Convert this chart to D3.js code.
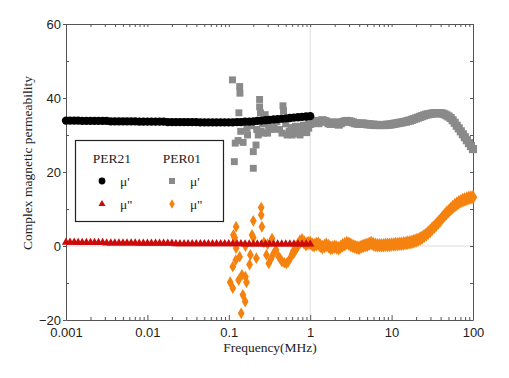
<!DOCTYPE html>
<html><head><meta charset="utf-8">
<script src="https://cdn.jsdelivr.net/npm/d3@7"></script>
<style>body{margin:0;background:#fff}svg{display:block}</style>
</head><body><div id="chart"></div>
<script>
// ---- data ----
const per21Freq = [0.001,0.00112,0.00126,0.00141,0.00158,0.00178,0.002,0.00224,0.00251,0.00282,0.00316,0.00355,0.00398,0.00447,0.00501,0.00562,0.00631,0.00708,0.00794,0.00891,
 0.01,0.0112,0.0126,0.0141,0.0158,0.0178,0.02,0.0224,0.0251,0.0282,0.0316,0.0355,0.0398,0.0447,0.0501,0.0562,0.0631,0.0708,0.0794,0.0891,
 0.1,0.112,0.126,0.141,0.158,0.178,0.2,0.224,0.251,0.282,0.316,0.355,0.398,0.447,0.501,0.562,0.631,0.708,0.794,0.891,1.0];
const per21MuReal = [33.9,33.9,33.9,33.9,33.8,33.8,33.8,33.8,33.8,33.8,33.8,33.7,33.7,33.7,33.7,33.7,33.7,33.7,33.6,33.6,
 33.6,33.6,33.6,33.6,33.6,33.5,33.5,33.5,33.5,33.5,33.5,33.5,33.5,33.4,33.4,33.4,33.4,33.4,33.4,33.4,
 33.4,33.4,33.5,33.5,33.6,33.6,33.7,33.8,33.9,34.0,34.1,34.2,34.3,34.4,34.5,34.6,34.7,34.8,34.9,35.0,35.1];
const per21MuImag = [1.0,1.0,1.0,0.9,0.9,0.9,0.9,0.9,0.9,0.9,0.8,0.8,0.8,0.8,0.8,0.8,0.8,0.8,0.7,0.7,
 0.7,0.7,0.7,0.7,0.7,0.7,0.7,0.6,0.6,0.6,0.6,0.6,0.6,0.6,0.6,0.6,0.6,0.6,0.6,0.6,
 0.6,0.6,0.6,0.6,0.5,0.5,0.5,0.5,0.5,0.5,0.5,0.5,0.5,0.5,0.5,0.5,0.5,0.5,0.5,0.5,0.5];

// PER01 scattered low-frequency part
const per01ScatterRealFreq = [0.111,0.136,0.137,0.133,0.239,0.239,0.245,0.463,0.47,0.117,0.2,0.12,0.15,0.216,0.2,0.167,0.17,0.266,0.309,0.39,0.75,0.66,0.155,0.18,0.125,0.14,0.28,0.33,0.36,0.42,0.5,0.55,0.6,0.85,0.95,0.13,0.23,0.26,
 0.19,0.22,0.25,0.3,0.35,0.45,0.52,0.58,0.7];
const per01ScatterReal     = [44.9,43.1,41.3,36.0,39.6,37.6,36.0,37.9,36.6,22.8,21.0,27.8,28.0,27.3,25.5,31.8,30.0,30.5,32.2,33.6,30.0,30.5,33.5,33.0,33.5,31.0,35.5,34.0,32.0,31.5,33.0,31.0,30.0,31.0,33.0,28.5,30.0,33.0,
 32.5,31.5,31.0,30.5,31.5,30.5,30.0,32.0,31.0];
const per01ScatterImagFreq = [0.25,0.25,0.2,0.255,0.123,0.114,0.118,0.193,0.2,0.34,0.123,0.136,0.122,0.112,0.184,0.18,0.218,0.31,0.29,0.355,0.41,0.45,0.51,0.57,0.104,0.112,0.132,0.145,0.16,0.165,0.149,0.159,0.142,0.3,0.38,0.27,0.16,
 0.33,0.43,0.48,0.54,0.6];
const per01ScatterImag     = [10.4,8.4,6.8,5.2,5.2,3.0,2.2,3.0,2.2,2.0,-0.6,-2.9,-3.8,-5.6,-2.4,-5.0,-3.3,-4.7,-2.4,-2.0,-2.9,-4.2,-4.7,-3.3,-9.8,-11.4,-9.2,-7.8,-8.3,-9.8,-13.2,-15.0,-18.2,0.5,-1.0,1.0,0.0,
 -3.5,-3.5,-4.5,-4.2,-2.2];

// PER01 smooth high-frequency part
const per01Freq = [0.631,0.668,0.708,0.750,0.794,0.841,0.891,0.944,1.0,1.06,1.12,1.19,1.26,1.33,1.41,1.50,1.58,1.68,1.78,1.88,
 2.0,2.11,2.24,2.37,2.51,2.66,2.82,2.99,3.16,3.35,3.55,3.76,3.98,4.22,4.47,4.73,5.01,5.31,5.62,5.96,
 6.31,6.68,7.08,7.50,7.94,8.41,8.91,9.44,10,10.6,11.2,11.9,12.6,13.3,14.1,15.0,15.8,16.8,17.8,18.8,
 20,21.1,22.4,23.7,25.1,26.6,28.2,29.9,31.6,33.5,35.5,37.6,39.8,42.2,44.7,47.3,50.1,53.1,56.2,59.6,
 63.1,66.8,70.8,75.0,79.4,84.1,89.1,94.4,100];
const per01MuReal = [31.5,32.2,30.5,31.0,31.8,32.5,30.8,32.0,33.0,33.5,
 33.8,33.4,33.2,33.7,34.0,33.8,33.6,33.2,33.0,33.3,
 33.4,33.0,32.8,33.2,33.5,33.7,33.8,33.7,33.6,33.4,
 33.2,33.1,33.0,33.1,33.1,33.0,32.9,32.9,32.8,32.8,
 32.7,32.7,32.7,32.7,32.7,32.7,32.8,32.8,32.9,33.0,
 33.1,33.2,33.3,33.4,33.5,33.6,33.8,33.9,34.1,34.3,
 34.5,34.7,34.9,35.1,35.3,35.5,35.6,35.7,35.8,35.9,
 35.9,35.9,35.9,35.8,35.6,35.3,35.0,34.6,34.0,33.3,
 32.5,31.8,31.0,30.2,29.4,28.6,27.8,27.0,26.2];
const per01MuImag = [-1.5,-0.5,0.3,1.2,1.5,1.0,0.5,0.8,0.8,0.4,
 0.2,0.5,0.6,0.1,-0.3,0.0,0.3,0.0,-0.5,-0.4,
 -0.2,-0.4,-0.6,-0.2,0.2,0.5,0.8,0.6,0.3,0.0,
 -0.2,-0.4,-0.5,-0.2,0.0,0.2,0.3,0.6,0.8,0.5,
 0.3,0.2,0.2,0.2,0.2,0.3,0.3,0.3,0.4,0.4,
 0.5,0.5,0.6,0.6,0.7,0.8,0.9,1.0,1.1,1.3,
 1.5,1.7,2.0,2.3,2.7,3.1,3.6,4.1,4.7,5.2,
 5.8,6.4,7.0,7.7,8.3,8.9,9.4,10.0,10.5,11.0,
 11.4,11.8,12.1,12.4,12.6,12.8,13.0,13.1,13.2];

const xTicks = [0.001,0.01,0.1,1,10,100];
const xTickLabels = ["0.001","0.01","0.1","1","10","100"];
const yTicks = [-20,0,20,40,60];

// ---- chart ----
const W = 509, H = 378;
const L = 66, R = 473, T = 24, B = 320;
const sans = "'Liberation Sans', Arial, sans-serif";
const serif = "'Liberation Serif', 'Times New Roman', serif";
const svg = d3.select("#chart").append("svg").attr("width", W).attr("height", H);
const x = d3.scaleLog().domain([0.001, 100]).range([L, R]);
const y = d3.scaleLinear().domain([-20, 60]).range([B, T]);

// grid lines at f=1 and mu=0
svg.append("line").attr("x1", x(1)).attr("x2", x(1)).attr("y1", T).attr("y2", B).attr("stroke", "#dcdcdc").attr("stroke-width", 1);
svg.append("line").attr("x1", L).attr("x2", R).attr("y1", y(0)).attr("y2", y(0)).attr("stroke", "#dcdcdc").attr("stroke-width", 1);

const axisColor = "#555";
const minorX = [];
for (let e = -3; e < 2; e++) for (let m = 2; m <= 9; m++) minorX.push(m * Math.pow(10, e));

const gx = svg.append("g").attr("transform", `translate(0,${B})`)
  .call(d3.axisBottom(x).tickValues(xTicks).tickFormat((d, i) => xTickLabels[i]).tickSizeInner(-5).tickSizeOuter(0).tickPadding(8));
gx.selectAll("text").attr("font-family", sans).attr("font-size", 13).attr("fill", "#222");
gx.select(".domain").attr("stroke", axisColor);
gx.selectAll(".tick line").attr("stroke", axisColor);
const gxm = svg.append("g").attr("transform", `translate(0,${B})`)
  .call(d3.axisBottom(x).tickValues(minorX).tickFormat("").tickSizeInner(-3).tickSizeOuter(0));
gxm.select(".domain").remove(); gxm.selectAll(".tick line").attr("stroke", axisColor);

const gxt = svg.append("g").attr("transform", `translate(0,${T})`)
  .call(d3.axisTop(x).tickValues(xTicks.concat(minorX)).tickFormat("").tickSizeInner(-3).tickSizeOuter(0));
gxt.select(".domain").attr("stroke", axisColor); gxt.selectAll(".tick line").attr("stroke", axisColor);

const gy = svg.append("g").attr("transform", `translate(${L},0)`)
  .call(d3.axisLeft(y).tickValues(yTicks).tickSizeInner(3).tickSizeOuter(0).tickPadding(2));
gy.selectAll("text").attr("font-family", sans).attr("font-size", 13).attr("fill", "#222");
gy.select(".domain").attr("stroke", axisColor); gy.selectAll(".tick line").attr("stroke", axisColor);
const gym = svg.append("g").attr("transform", `translate(${L},0)`)
  .call(d3.axisLeft(y).tickValues([-10,10,30,50]).tickFormat("").tickSizeInner(-3).tickSizeOuter(0));
gym.select(".domain").remove(); gym.selectAll(".tick line").attr("stroke", axisColor);

const gyr = svg.append("g").attr("transform", `translate(${R},0)`)
  .call(d3.axisRight(y).tickValues(d3.range(-20, 61, 10)).tickFormat("").tickSizeInner(-3).tickSizeOuter(0));
gyr.select(".domain").attr("stroke", axisColor); gyr.selectAll(".tick line").attr("stroke", axisColor);

// axis titles
svg.append("text").attr("x", 270).attr("y", 352).attr("text-anchor", "middle")
  .attr("font-family", serif).attr("font-size", 13.5).attr("fill", "#222").text("Frequency(MHz)");
svg.append("text").attr("transform", `translate(32,163) rotate(-90)`).attr("text-anchor", "middle")
  .attr("font-family", serif).attr("font-size", 13.5).attr("fill", "#222").text("Complex magnetic permeability");

// markers
const colGray = "#8a8a8a", colOrange = "#f5820f", colBlack = "#000", colRed = "#cc0a0a";
const sym = (type, size) => d3.symbol().type(type).size(size)();
const plot = svg.append("g");

function drawSeries(fs, vs, type, size, color) {
  plot.append("g").selectAll("path").data(fs.map((f, i) => [f, vs[i]])).join("path")
    .attr("transform", d => `translate(${x(d[0])},${y(d[1])})`)
    .attr("d", sym(type, size)).attr("fill", color);
}
drawSeries(per01ScatterRealFreq, per01ScatterReal, d3.symbolSquare, 48, colGray);
drawSeries(per01Freq, per01MuReal, d3.symbolSquare, 66, colGray);
drawSeries(per01ScatterImagFreq, per01ScatterImag, d3.symbolDiamond, 40, colOrange);
drawSeries(per01Freq, per01MuImag, d3.symbolDiamond, 62, colOrange);
drawSeries(per21Freq, per21MuReal, d3.symbolCircle, 54, colBlack);
drawSeries(per21Freq, per21MuImag, d3.symbolTriangle, 30, colRed);

// legend
const lg = svg.append("g");
lg.append("rect").attr("x", 75.5).attr("y", 140.5).attr("width", 148).attr("height", 81).attr("fill", "#fff").attr("stroke", "#222").attr("stroke-width", 1.2);
lg.append("text").attr("x", 112).attr("y", 163).attr("text-anchor", "middle").attr("font-family", serif).attr("font-size", 13.5).attr("fill", "#222").text("PER21");
lg.append("text").attr("x", 182).attr("y", 163).attr("text-anchor", "middle").attr("font-family", serif).attr("font-size", 13.5).attr("fill", "#222").text("PER01");
const legendItems = [
  {px: 102, py: 181, type: d3.symbolCircle, size: 36, color: colBlack, label: "\u03bc'", tx: 120},
  {px: 172, py: 181, type: d3.symbolSquare, size: 36, color: colGray, label: "\u03bc'", tx: 190},
  {px: 102, py: 204, type: d3.symbolTriangle, size: 22, color: colRed, label: "\u03bc''", tx: 120},
  {px: 172, py: 204, type: d3.symbolDiamond, size: 26, color: colOrange, label: "\u03bc''", tx: 190}
];
legendItems.forEach(it => {
  lg.append("path").attr("transform", `translate(${it.px},${it.py})`).attr("d", sym(it.type, it.size)).attr("fill", it.color);
  lg.append("text").attr("x", it.tx).attr("y", it.py + 5).attr("font-family", serif).attr("font-size", 13.5).attr("fill", "#222").text(it.label);
});
</script></body></html>
